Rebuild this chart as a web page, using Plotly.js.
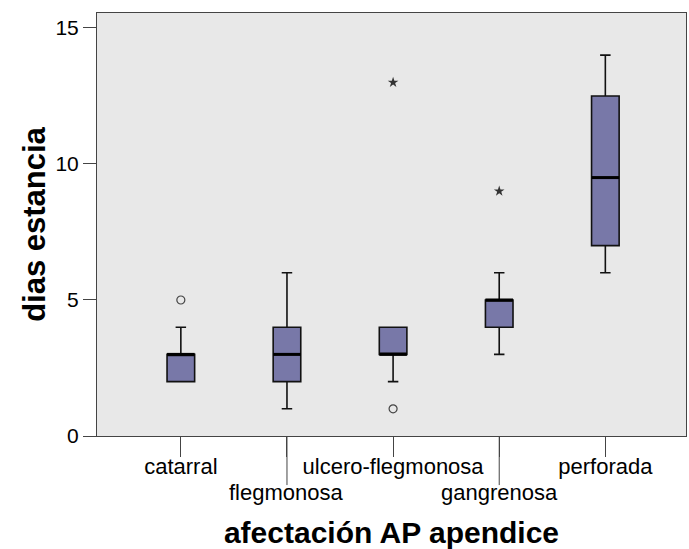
<!DOCTYPE html>
<html>
<head>
<meta charset="utf-8">
<script src="https://cdn.plot.ly/plotly-3.0.1.min.js"></script>
<style>html,body{margin:0;padding:0;background:#fff;}#chart{width:689px;height:549px;}</style>
</head>
<body>
<div id="chart"></div>
<script>
// Data
const categories = ["catarral", "flegmonosa", "ulcero-flegmonosa", "gangrenosa", "perforada"];
const lowerWhisker = [2, 1, 2, 3, 6];
const q1Values = [2, 2, 3, 4, 7];
const medianValues = [3, 3, 3, 5, 9.5];
const q3Values = [3, 4, 4, 5, 12.5];
const upperWhisker = [4, 6, 4, 6, 14];
// outliers (circles) and extremes (stars)
const outlierCat = [0, 2];
const outlierVal = [5, 1];
const extremeCat = [2, 3];
const extremeVal = [13, 9];
// staggered label row (0 = top row, 1 = lower row)
const labelRow = [0, 1, 0, 1, 0];
const yTicks = [0, 5, 10, 15];

const idx = categories.map((c, i) => i);
const boxW = 0.26;
const boxColor = "#7878a8";
const FONT = "Liberation Sans, Arial, sans-serif";

const traces = [];
traces.push({
  type: "box",
  x: idx,
  q1: q1Values,
  median: medianValues,
  q3: q3Values,
  lowerfence: lowerWhisker,
  upperfence: upperWhisker,
  width: boxW,
  whiskerwidth: 0.38,
  fillcolor: boxColor,
  line: {color: "#111", width: 1.6},
  boxpoints: false,
  hoverinfo: "none",
  showlegend: false
});
// thick median lines
const mx = [], my = [];
idx.forEach(i => { mx.push(i - boxW / 2, i + boxW / 2, null); my.push(medianValues[i], medianValues[i], null); });
traces.push({type: "scatter", mode: "lines", x: mx, y: my, line: {color: "#000", width: 3}, hoverinfo: "none", showlegend: false});
traces.push({type: "scatter", mode: "markers", x: outlierCat, y: outlierVal,
  marker: {symbol: "circle-open", size: 8, color: "#444", line: {width: 1.2, color: "#444"}}, hoverinfo: "none", showlegend: false});
traces.push({type: "scatter", mode: "markers", x: extremeCat, y: extremeVal,
  marker: {symbol: "star", size: 8, color: "#333", line: {width: 0}}, hoverinfo: "none", showlegend: false});

const tickText = categories.map((c, i) => labelRow[i] ? "" : c);
const shapes = idx.filter(i => labelRow[i]).map(i => ({
  type: "line", xref: "x", yref: "paper", x0: i, x1: i, y0: 0, y1: -0.116,
  line: {color: "#444", width: 1}
}));
const annotations = idx.filter(i => labelRow[i]).map(i => ({
  x: i, xref: "x", y: 0, yref: "paper", yanchor: "top", yshift: -42,
  text: categories[i], showarrow: false, font: {size: 22, color: "#000", family: FONT}
}));

const layout = {
  width: 689, height: 549,
  margin: {l: 97, r: 3, t: 13, b: 113},
  paper_bgcolor: "#fff",
  plot_bgcolor: "#e8e8e8",
  font: {family: FONT, color: "#000"},
  showlegend: false,
  shapes: shapes,
  annotations: annotations,
  xaxis: {
    range: [-0.79, 4.76],
    tickvals: idx, ticktext: tickText, tickangle: 0,
    ticks: "outside", ticklen: 20, tickcolor: "#444", tickwidth: 1,
    ticklabelstandoff: -9,
    tickfont: {size: 22, color: "#000"},
    showgrid: false, zeroline: false,
    showline: true, linecolor: "#444", linewidth: 1, mirror: true,
    automargin: false,
    title: {text: "afectación AP apendice", font: {size: 30, color: "#000", family: FONT, weight: "bold"}, standoff: 49}
  },
  yaxis: {
    range: [0, 15.55],
    tickvals: yTicks,
    ticks: "outside", ticklen: 13, tickcolor: "#444", tickwidth: 1,
    tickfont: {size: 21, color: "#000"},
    showgrid: false, zeroline: false,
    showline: true, linecolor: "#444", linewidth: 1, mirror: true,
    automargin: false,
    title: {text: "dias estancia", font: {size: 31, color: "#000", family: FONT, weight: "bold"}, standoff: 0}
  }
};
Plotly.newPlot("chart", traces, layout, {staticPlot: true, displayModeBar: false});
</script>
</body>
</html>
